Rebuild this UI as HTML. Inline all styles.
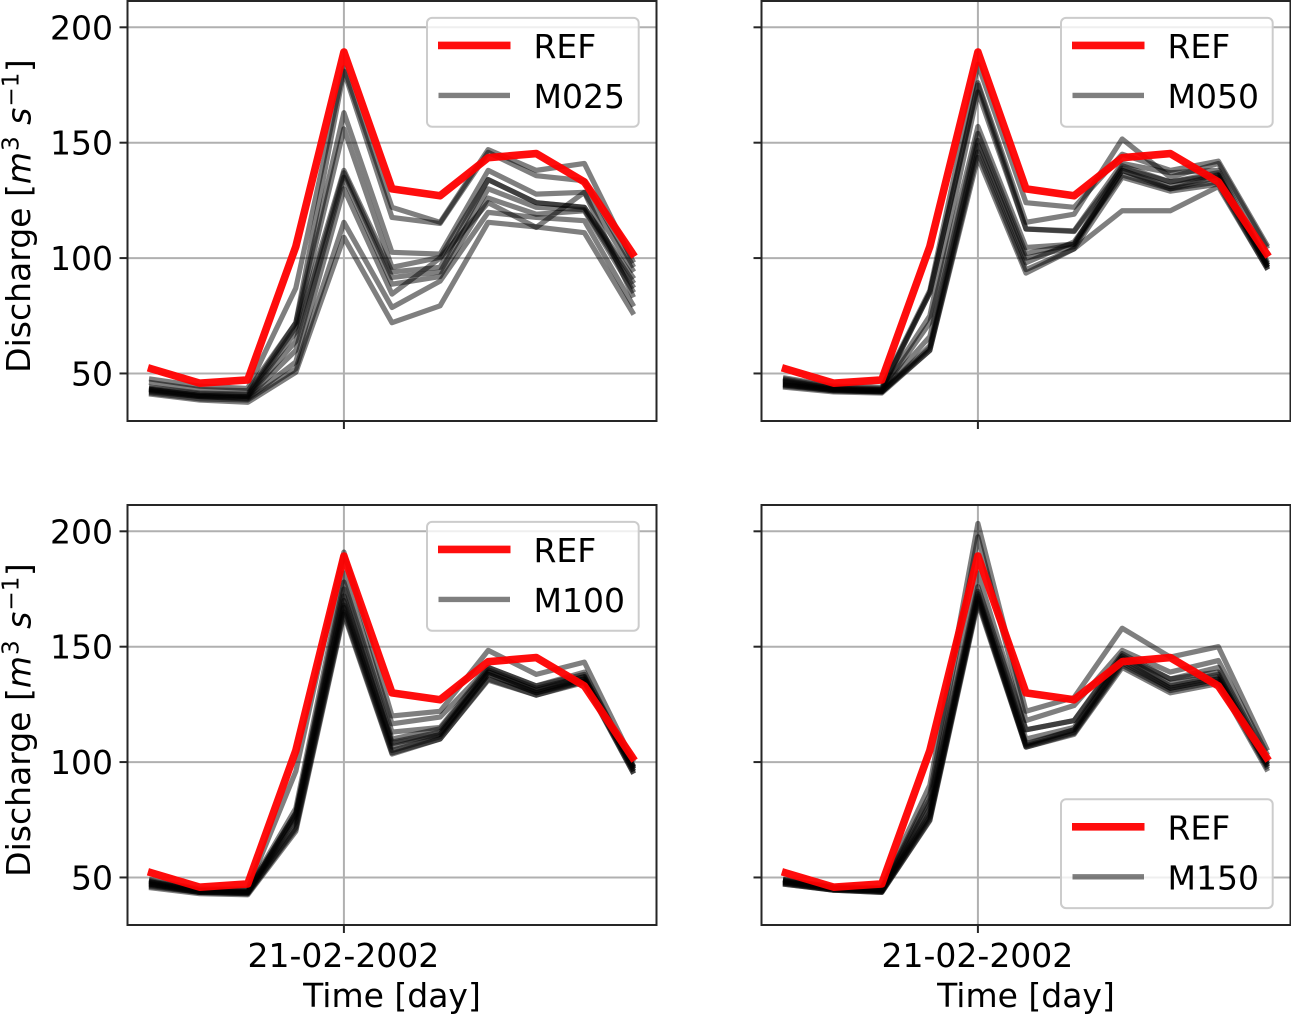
<!DOCTYPE html>
<html lang="en">
<head>
<meta charset="utf-8">
<title>Discharge ensemble comparison</title>
<style>
html,body{margin:0;padding:0;background:#fff;}
svg{display:block;}
text{font-family:"DejaVu Sans","Liberation Sans",sans-serif;fill:#000;}
</style>
</head>
<body>
<svg id="chart" xmlns="http://www.w3.org/2000/svg" width="1291" height="1015" viewBox="0 0 1291 1015"></svg>
<script>
const yTicks = [50, 100, 150, 200];
const yTickLabels = ['50', '100', '150', '200'];
const xTickLabel = '21-02-2002';
const peakDayIndex = 4;
const refSeries = [52, 45.8, 47.2, 105, 189.3, 130, 127, 143.5, 145.3, 133, 102];

const membersM025 = [
  [47.5, 44.5, 43.5, 87, 182.5, 122, 115.5, 147, 138, 141, 99],
  [46, 43, 42.5, 72, 181, 117.6, 115, 145.8, 135.7, 133.5, 97],
  [44, 41.5, 41, 72, 163, 102.5, 101.7, 138, 127.7, 128.5, 95],
  [43.5, 41, 40.5, 70, 156, 96, 100.3, 134, 124, 122, 92],
  [43, 40.5, 40, 68, 138, 94, 96, 134, 124, 122, 90],
  [43, 40.5, 40, 64, 137, 91.6, 94, 130, 122, 121, 88],
  [42.5, 40, 39.5, 60, 135, 88.7, 92, 126, 119, 120.5, 86],
  [42, 40, 39, 55, 130, 84.4, 100, 124, 113.3, 128.5, 84],
  [41.5, 39, 38.5, 52, 115.5, 78.6, 90, 119.8, 117.6, 116.2, 80],
  [41, 38.5, 37.5, 50.5, 109, 72, 79.3, 115.5, 113.5, 111, 76.5]
];
const membersM050 = [
  [48, 44.5, 44, 86, 184, 124, 122, 145, 138, 142, 106],
  [47.5, 44, 43.5, 85, 176, 115.5, 119, 151.6, 135, 141, 105],
  [47, 43.5, 43, 85, 175, 112.6, 111.8, 141, 137, 138, 99],
  [46.5, 43.5, 43, 75, 172, 112.6, 111.5, 139, 133, 137, 98],
  [46, 43, 42.5, 72, 157, 104.6, 106, 140, 133, 136, 98],
  [45.5, 43, 42.5, 66, 154, 102, 106, 138, 131, 136, 97],
  [45, 43, 42, 62, 151, 100, 105, 138, 130, 135, 97],
  [45, 42.5, 42, 61, 149, 98, 107, 136, 130, 133, 97],
  [44.5, 42.5, 42, 60, 146, 95, 104, 135, 129, 132, 96],
  [44, 42, 41.5, 60, 143.6, 93.5, 104, 120.5, 120.5, 131, 96]
];
const membersM100 = [
  [49, 45, 45, 96, 191, 120, 122, 148.4, 138, 143.3, 101],
  [48.5, 44.5, 44.5, 80, 182, 116.6, 119.5, 141, 133, 139, 99],
  [48, 44.5, 44, 78, 178, 113, 115, 141, 133, 138, 99],
  [48, 44, 44, 78, 175, 110, 114.4, 140, 132, 137, 98.5],
  [47.5, 44, 43.5, 77, 172, 108.6, 113, 139, 131, 137, 98],
  [47, 44, 43.5, 76, 170, 108, 112, 139, 131, 136, 98],
  [47, 43.5, 43.5, 74, 168, 106.5, 112, 138, 130, 136, 97],
  [46.5, 43.5, 43, 72, 167, 105, 111, 138, 130, 135, 97],
  [46, 43.5, 43, 71, 165, 104, 110, 136, 129, 135, 96],
  [45.5, 43, 42.5, 70, 164, 103.5, 110, 135.5, 129, 134.5, 96]
];
const membersM150 = [
  [49, 46, 45.5, 90, 203.4, 122, 128, 158, 145.5, 150, 106],
  [49, 45.5, 45, 86, 197.6, 118, 124.5, 148.4, 139, 144, 104],
  [48.5, 45.5, 45, 84, 182, 114, 118, 147, 136, 141, 102],
  [48.5, 45, 44.5, 82, 176, 114, 118, 146, 136, 139, 101],
  [48, 45, 44.5, 80, 174, 110, 115, 146, 134, 138, 100],
  [48, 45, 44, 78, 173, 108, 114, 145, 133, 137, 100],
  [47.5, 45, 44, 77, 172, 107.5, 114, 144, 132, 136, 99],
  [47.5, 44.5, 44, 76, 171, 107, 113, 143, 132, 136, 99],
  [47, 44.5, 43.5, 75, 170, 106.5, 112.5, 142, 131, 135, 98],
  [47, 44.5, 43.5, 74.6, 169, 106.5, 112, 141, 130, 134, 97]
];

const panels = [
  {key: 'm025', label: 'M025', members: membersM025, left: 127.5, top: 1, ylabel: true, xlabel: false, legendBottom: false},
  {key: 'm050', label: 'M050', members: membersM050, left: 761.5, top: 1, ylabel: false, xlabel: false, legendBottom: false},
  {key: 'm100', label: 'M100', members: membersM100, left: 127.5, top: 505, ylabel: true, xlabel: true, legendBottom: false},
  {key: 'm150', label: 'M150', members: membersM150, left: 761.5, top: 505, ylabel: false, xlabel: true, legendBottom: true}
];

const PW = 529, PH = 420, XMIN = -0.5, XMAX = 10.5, YMIN = 29.4, YMAX = 211.4, FS = 33;
const svg = document.getElementById('chart');
const NS = 'http://www.w3.org/2000/svg';

function mk(tag, attrs, parent) {
  const el = document.createElementNS(NS, tag);
  for (const k in attrs) el.setAttribute(k, attrs[k]);
  parent.appendChild(el);
  return el;
}

panels.forEach(function (p) {
  const sx = function (i) { return p.left + (i - XMIN) / (XMAX - XMIN) * PW; };
  const sy = function (v) { return p.top + PH - (v - YMIN) / (YMAX - YMIN) * PH; };
  const right = p.left + PW, bottom = p.top + PH;

  const g = mk('g', {}, svg);
  
  

  // grid
  const xg = sx(peakDayIndex);
  const vgrid = mk('line', {x1: xg, x2: xg, y1: p.top, y2: bottom, stroke: '#b0b0b0', 'stroke-width': 2}, g);
  
  
  yTicks.forEach(function (t) {
    const hg = mk('line', {x1: p.left, x2: right, y1: sy(t), y2: sy(t), stroke: '#b0b0b0', 'stroke-width': 2}, g);
    
    
  });

  // member lines
  p.members.forEach(function (vals, n) {
    const pts = vals.map(function (v, i) { return sx(i).toFixed(2) + ',' + sy(v).toFixed(2); }).join(' ');
    const line = mk('polyline', {points: pts, fill: 'none', stroke: '#000', 'stroke-opacity': 0.5, 'stroke-width': 5.2, 'stroke-linejoin': 'round', 'stroke-linecap': 'square'}, g);
    
    
  });

  // reference
  const refPts = refSeries.map(function (v, i) { return sx(i).toFixed(2) + ',' + sy(v).toFixed(2); }).join(' ');
  const refLine = mk('polyline', {points: refPts, fill: 'none', stroke: '#ff0000', 'stroke-opacity': 0.95, 'stroke-width': 7.6, 'stroke-linejoin': 'round', 'stroke-linecap': 'square'}, g);
  
  

  // spines
  const frame = mk('rect', {x: p.left, y: p.top, width: PW, height: PH, fill: 'none', stroke: '#262626', 'stroke-width': 2}, g);
  
  

  // y ticks
  yTicks.forEach(function (t, i) {
    const tick = mk('line', {x1: p.left - 8, x2: p.left, y1: sy(t), y2: sy(t), stroke: '#262626', 'stroke-width': 2}, g);
    
    
    if (p.ylabel) {
      const lab = mk('text', {x: p.left - 14.5, y: sy(t) + 12, 'text-anchor': 'end', 'font-size': FS}, g);
      lab.textContent = yTickLabels[i];
      
      
    }
  });

  // x tick
  const xt = mk('line', {x1: xg, x2: xg, y1: bottom, y2: bottom + 8, stroke: '#262626', 'stroke-width': 2}, g);
  
  

  if (p.xlabel) {
    const xl = mk('text', {x: xg - 0.5, y: bottom + 42, 'text-anchor': 'middle', 'font-size': FS}, g);
    xl.textContent = xTickLabel;
    
    
    const xa = mk('text', {x: p.left + PW / 2, y: bottom + 82, 'text-anchor': 'middle', 'font-size': FS}, g);
    xa.textContent = 'Time [day]';
    
    
  }

  if (p.ylabel) {
    const ya = mk('text', {transform: 'translate(30,' + (p.top + 215) + ') rotate(-90)', 'text-anchor': 'middle', 'font-size': FS}, g);
    
    
    const parts = [
      ['Discharge [', 'normal', 0, 0, FS],
      ['m', 'italic', 0, 0.5, FS],
      ['3', 'normal', 1, -12, FS * 0.7],
      [' ', 'normal', 1, 12, FS],
      ['s', 'italic', 0, 0, FS],
      ['\u22121', 'normal', 1, -12, FS * 0.7],
      [']', 'normal', 0.5, 12, FS]
    ];
    parts.forEach(function (q) {
      const s = mk('tspan', {'font-style': q[1], dx: q[2], dy: q[3], 'font-size': q[4]}, ya);
      s.textContent = q[0];
    });
  }

  // legend
  const lx = p.left + 299.5;
  const ly = p.legendBottom ? p.top + 294.3 : p.top + 16.9;
  const lg = mk('g', {}, g);
  
  
  const box = mk('rect', {x: lx, y: ly, width: 211.7, height: 108.8, rx: 5, ry: 5, fill: '#fff', 'fill-opacity': 0.8, stroke: '#cccccc', 'stroke-width': 2}, lg);
  
  
  const s1 = mk('line', {x1: lx + 11, x2: lx + 83.5, y1: ly + 27.5, y2: ly + 27.5, stroke: '#ff0000', 'stroke-opacity': 0.95, 'stroke-width': 7.6, 'stroke-linecap': 'butt'}, lg);
  
  
  const t1 = mk('text', {x: lx + 106.5, y: ly + 40, 'font-size': FS}, lg);
  t1.textContent = 'REF';
  
  
  const s2 = mk('line', {x1: lx + 11.5, x2: lx + 83, y1: ly + 77.5, y2: ly + 77.5, stroke: '#000', 'stroke-opacity': 0.5, 'stroke-width': 5.4, 'stroke-linecap': 'butt'}, lg);
  
  
  const t2 = mk('text', {x: lx + 106.5, y: ly + 90, 'font-size': FS}, lg);
  t2.textContent = p.label;
  
  
});
</script>
</body>
</html>
